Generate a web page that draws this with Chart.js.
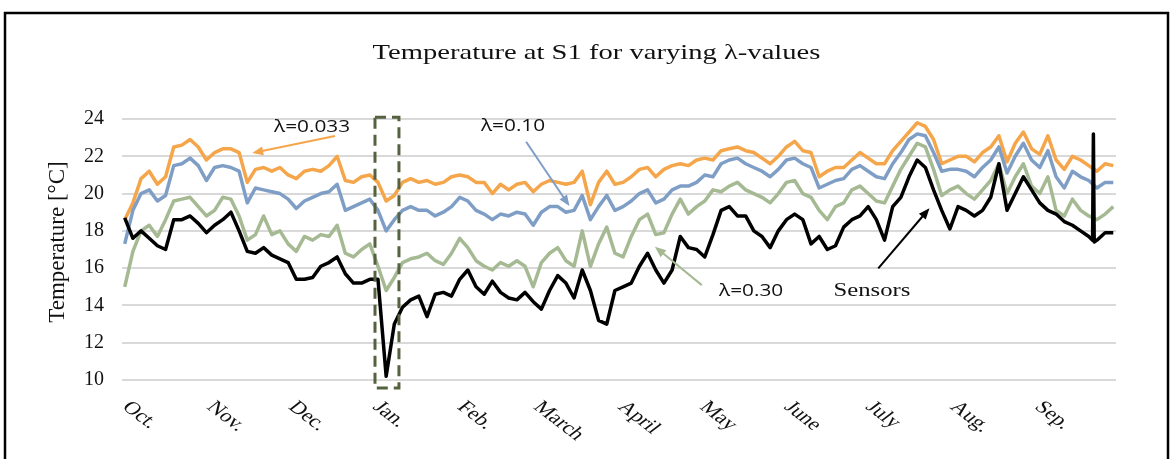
<!DOCTYPE html>
<html>
<head>
<meta charset="utf-8">
<title>Temperature at S1</title>
<script src="https://cdn.jsdelivr.net/npm/chart.js@4.4.1/dist/chart.umd.min.js"></script>
<style>
  html, body { margin: 0; padding: 0; background: #fff; }
  #wrap { width: 1173px; height: 459px; }
</style>
</head>
<body>
<div id="wrap"><canvas id="chart" width="1173" height="459"></canvas></div>
<script>
// month axis (day 0 = 1 Oct)
const months = ['Oct.', 'Nov.', 'Dec.', 'Jan.', 'Feb.', 'March', 'April', 'May', 'June', 'July', 'Aug.', 'Sep.'];
const monthStart = [0, 31, 61, 92, 123, 151, 182, 212, 243, 273, 304, 335];

// samples every 3 days
const days = Array.from({ length: 122 }, (_, i) => 1 + 3 * i);

const lambda033 = [
  18.6, 19.5, 20.8, 21.2, 20.5, 20.9, 22.5, 22.6, 22.9, 22.5, 21.8, 22.2, 22.4, 22.4, 22.2, 20.6, 21.3, 21.4, 21.2, 21.4, 21.0, 20.8, 21.2, 21.3, 21.2,
  21.5, 22.0, 20.7, 20.6, 20.9, 21.0, 20.6, 19.6, 19.9, 20.6, 20.8, 20.6, 20.7, 20.5, 20.6, 20.9, 21.0, 20.9, 20.6, 20.6, 20.0, 20.5, 20.2, 20.5,
  20.6, 20.1, 20.5, 20.7, 20.6, 20.5, 20.6, 21.2, 19.4, 20.6, 21.2, 20.5, 20.6, 20.9, 21.3, 21.4, 20.9, 21.3, 21.5, 21.6, 21.5, 21.8, 21.9, 21.8,
  22.3, 22.4, 22.5, 22.3, 22.2, 21.9, 21.6, 22.0, 22.5, 22.8, 22.3, 22.2, 20.9, 21.2, 21.4, 21.4, 21.8, 22.2, 21.9, 21.6, 21.6, 22.3, 22.8, 23.3, 23.8,
  23.6, 22.9, 21.6, 21.8, 22.0, 22.0, 21.7, 22.2, 22.5, 23.1, 21.7, 22.7, 23.3, 22.4, 22.1, 23.1, 21.8, 21.3, 22.0, 21.8, 21.5, 21.2, 21.6, 21.5
];
const lambda010 = [
  17.3, 19.1, 20.0, 20.2, 19.6, 19.9, 21.5, 21.6, 21.9, 21.5, 20.7, 21.4, 21.5, 21.4, 21.2, 19.5, 20.3, 20.2, 20.1, 20.0, 19.7, 19.2, 19.6, 19.8, 20.0,
  20.1, 20.5, 19.1, 19.3, 19.5, 19.7, 19.1, 18.0, 18.6, 19.1, 19.3, 19.1, 19.1, 18.8, 19.0, 19.3, 19.8, 19.6, 19.1, 18.9, 18.6, 18.9, 18.8, 19.0,
  18.9, 18.3, 19.0, 19.3, 19.3, 19.0, 19.1, 19.9, 18.6, 19.3, 19.9, 19.1, 19.3, 19.6, 20.0, 20.2, 19.5, 19.7, 20.2, 20.4, 20.4, 20.6, 21.0, 20.9,
  21.6, 21.8, 21.9, 21.6, 21.4, 21.2, 20.9, 21.3, 21.8, 21.9, 21.6, 21.4, 20.3, 20.5, 20.7, 20.8, 21.3, 21.5, 21.2, 20.9, 20.8, 21.6, 22.2, 22.9, 23.2,
  23.1, 22.2, 21.2, 21.3, 21.3, 21.2, 20.9, 21.4, 21.8, 22.5, 21.1, 22.0, 22.7, 21.8, 21.4, 22.3, 20.9, 20.3, 21.2, 20.9, 20.7, 20.3, 20.6, 20.6
];
const lambda030 = [
  15.0, 16.9, 18.0, 18.3, 17.7, 18.6, 19.6, 19.7, 19.8, 19.3, 18.8, 19.1, 19.8, 19.7, 18.8, 17.5, 17.8, 18.8, 17.8, 18.0, 17.3, 16.9, 17.7, 17.5, 17.8,
  17.7, 18.3, 16.8, 16.6, 17.0, 17.3, 16.1, 14.8, 15.5, 16.3, 16.5, 16.6, 16.8, 16.4, 16.2, 16.8, 17.6, 17.1, 16.4, 16.1, 15.9, 16.3, 16.1, 16.4,
  16.1, 15.0, 16.3, 16.8, 17.1, 16.4, 16.1, 18.0, 16.1, 17.3, 18.2, 16.8, 16.6, 17.7, 18.6, 18.9, 17.8, 17.9, 18.9, 19.7, 18.9, 19.3, 19.6, 20.2,
  20.1, 20.4, 20.6, 20.2, 20.0, 19.8, 19.5, 20.0, 20.6, 20.7, 20.0, 19.8, 19.1, 18.6, 19.3, 19.5, 20.2, 20.4, 20.0, 19.6, 19.5, 20.4, 21.3, 22.0, 22.7,
  22.5, 21.3, 19.9, 20.2, 20.4, 20.0, 19.7, 20.2, 20.7, 21.6, 20.0, 20.9, 21.6, 20.4, 20.0, 20.9, 19.1, 18.8, 19.7, 19.1, 18.8, 18.6, 18.9, 19.3
];
const sensors = [
  18.7, 17.6, 18.0, 17.6, 17.2, 17.0, 18.6, 18.6, 18.8, 18.4, 17.9, 18.3, 18.6, 19.0, 18.0, 16.9, 16.8, 17.1, 16.7, 16.5, 16.3, 15.4, 15.4, 15.5, 16.1,
  16.3, 16.6, 15.7, 15.2, 15.2, 15.4, 15.4, 10.2, 13.0, 13.9, 14.3, 14.5, 13.4, 14.6, 14.7, 14.5, 15.4, 15.9, 15.0, 14.6, 15.3, 14.7, 14.4, 14.3,
  14.7, 14.2, 13.8, 14.8, 15.6, 15.2, 14.4, 15.9, 14.8, 13.2, 13.0, 14.8, 15.0, 15.2, 16.1, 16.8, 15.9, 15.2, 15.9, 17.7, 17.1, 17.0, 16.6, 17.8,
  19.1, 19.3, 18.8, 18.8, 18.0, 17.7, 17.1, 18.0, 18.6, 18.9, 18.6, 17.3, 17.7, 17.0, 17.2, 18.2, 18.6, 18.8, 19.3, 18.6, 17.5, 19.3, 19.8, 20.9, 21.8,
  21.4, 20.2, 19.1, 18.1, 19.3, 19.1, 18.8, 19.1, 19.8, 21.6, 19.1, 20.0, 20.9, 20.2, 19.5, 19.1, 18.9, 18.5, 18.3, 18.0, 17.7, 17.5, 17.9, 17.9
];
// one-off sensor glitch in September (a thin vertical spike)
const spikeDays = [356.4, 356.7, 357.0];
const spikeValues = [17.5, 23.2, 17.4];

const serif = '"Liberation Serif", "Times New Roman", serif';
const sans = '"Open Sans", "Noto Sans", sans-serif';
const STRETCH = 1.3; // the original picture is widened horizontally

function pts(values, extraDays, extraValues) {
  const out = values.map((v, i) => ({ x: days[i], y: v }));
  if (extraDays) extraDays.forEach((d, i) => out.push({ x: d, y: extraValues[i] }));
  return out.sort((a, b) => a.x - b.x);
}

function wideText(ctx, text, x, y, rot) {
  ctx.save();
  ctx.translate(x, y);
  ctx.scale(STRETCH, 1);
  if (rot) ctx.rotate(rot);
  ctx.fillText(text, 0, 0);
  ctx.restore();
}

function arrow(ctx, x1, y1, x2, y2, color) {
  const a = Math.atan2(y2 - y1, x2 - x1);
  const len = 11, half = 4.5;
  ctx.save();
  ctx.strokeStyle = color;
  ctx.fillStyle = color;
  ctx.lineWidth = 2;
  ctx.beginPath();
  ctx.moveTo(x1, y1);
  ctx.lineTo(x2 - Math.cos(a) * len * 0.8, y2 - Math.sin(a) * len * 0.8);
  ctx.stroke();
  ctx.beginPath();
  ctx.moveTo(x2, y2);
  ctx.lineTo(x2 - Math.cos(a) * len - Math.sin(a) * half, y2 - Math.sin(a) * len + Math.cos(a) * half);
  ctx.lineTo(x2 - Math.cos(a) * len + Math.sin(a) * half, y2 - Math.sin(a) * len - Math.cos(a) * half);
  ctx.closePath();
  ctx.fill();
  ctx.restore();
}

// labels and arrows, in (day, °C)
const notes = [
  { text: 'λ=0.033', font: sans, size: 16, at: [69.8, 23.55], from: [78.2, 23.09], to: [47.8, 22.17], color: '#F5A54A' },
  { text: 'λ=0.10', font: sans, size: 16, at: [143.6, 23.6], from: [148.4, 22.78], to: [164.3, 19.33], color: '#7F9EC6' },
  { text: 'λ=0.30', font: sans, size: 16, at: [231, 14.75], from: [212.9, 15.09], to: [195.7, 17.15], color: '#A5B993' },
  { text: 'Sensors', font: serif, size: 19, at: [275.4, 14.75], from: [277.7, 15.99], to: [296.5, 19.21], color: '#000' }
];
const janBox = { x0: 92.9, x1: 101.7, y0: 24.1, y1: 9.57 };

const decor = {
  id: 'decor',
  beforeDraw(chart) {
    const ctx = chart.ctx;
    ctx.save();
    ctx.fillStyle = '#fff';
    ctx.fillRect(0, 0, chart.width, chart.height);
    ctx.strokeStyle = '#000';
    ctx.lineWidth = 2.5;
    ctx.strokeRect(5, 13, chart.width - 10, chart.height + 20);
    ctx.restore();
  },
  afterDatasetsDraw(chart) {
    const ctx = chart.ctx;
    const xs = chart.scales.x, ys = chart.scales.y;
    // dashed box round January
    ctx.save();
    ctx.strokeStyle = '#55623F';
    ctx.lineWidth = 3;
    ctx.setLineDash([11, 6]);
    const bx = xs.getPixelForValue(janBox.x0), bx2 = xs.getPixelForValue(janBox.x1);
    const by = ys.getPixelForValue(janBox.y0), by2 = ys.getPixelForValue(janBox.y1);
    ctx.strokeRect(bx, by, bx2 - bx, by2 - by);
    ctx.restore();

    notes.forEach(n => {
      arrow(ctx, xs.getPixelForValue(n.from[0]), ys.getPixelForValue(n.from[1]),
        xs.getPixelForValue(n.to[0]), ys.getPixelForValue(n.to[1]), n.color);
      ctx.save();
      ctx.fillStyle = '#111';
      ctx.font = n.size + 'px ' + n.font;
      ctx.textAlign = 'center';
      ctx.textBaseline = 'middle';
      wideText(ctx, n.text, xs.getPixelForValue(n.at[0]), ys.getPixelForValue(n.at[1]));
      ctx.restore();
    });
  },
  afterDraw(chart) {
    const ctx = chart.ctx;
    const area = chart.chartArea;
    const xs = chart.scales.x;
    ctx.save();
    ctx.fillStyle = '#111';
    // title
    ctx.font = '22px ' + serif;
    ctx.textAlign = 'center';
    ctx.textBaseline = 'middle';
    wideText(ctx, 'Temperature at S1 for varying λ-values', chart.width / 2 + 10, 53);
    // y axis title
    ctx.font = '23px ' + serif;
    ctx.save();
    ctx.translate(58, 242);
    ctx.rotate(-Math.PI / 2);
    ctx.fillText('Temperature [°C]', 0, 0);
    ctx.restore();
    // month labels, turned clockwise
    ctx.font = '18px ' + serif;
    ctx.textAlign = 'left';
    ctx.textBaseline = 'top';
    months.forEach((m, i) => {
      wideText(ctx, m, xs.getPixelForValue(monthStart[i]) + 12, area.bottom + 18, Math.PI / 4);
    });
    ctx.restore();
  }
};

new Chart(document.getElementById('chart'), {
  type: 'line',
  data: {
    datasets: [
      { label: 'λ=0.033', data: pts(lambda033), borderColor: '#F5A54A', order: 3 },
      { label: 'λ=0.10', data: pts(lambda010), borderColor: '#7F9EC6', order: 2 },
      { label: 'λ=0.30', data: pts(lambda030), borderColor: '#A5B993', order: 1 },
      { label: 'Sensors', data: pts(sensors, spikeDays, spikeValues), borderColor: '#000000', order: 0 }
    ]
  },
  options: {
    responsive: false,
    animation: false,
    devicePixelRatio: 1,
    layout: { padding: { left: 0, right: 57, top: 119, bottom: 0 } },
    elements: {
      point: { radius: 0 },
      line: { borderWidth: 3.5, tension: 0, borderJoinStyle: 'round', fill: false }
    },
    plugins: {
      legend: { display: false },
      tooltip: { enabled: false },
      title: { display: false }
    },
    scales: {
      x: {
        type: 'linear',
        min: 0,
        max: 365,
        grid: { display: false },
        border: { display: false },
        ticks: { display: false },
        afterFit(scale) { scale.height = 79; }
      },
      y: {
        min: 10,
        max: 24,
        ticks: {
          stepSize: 2,
          padding: 18,
          color: '#111',
          font: { family: serif, size: 20 }
        },
        grid: { color: '#d9d9d9', lineWidth: 2, drawTicks: false },
        border: { display: false },
        afterFit(scale) { scale.width = 122; }
      }
    }
  },
  plugins: [decor]
});
</script>
</body>
</html>
